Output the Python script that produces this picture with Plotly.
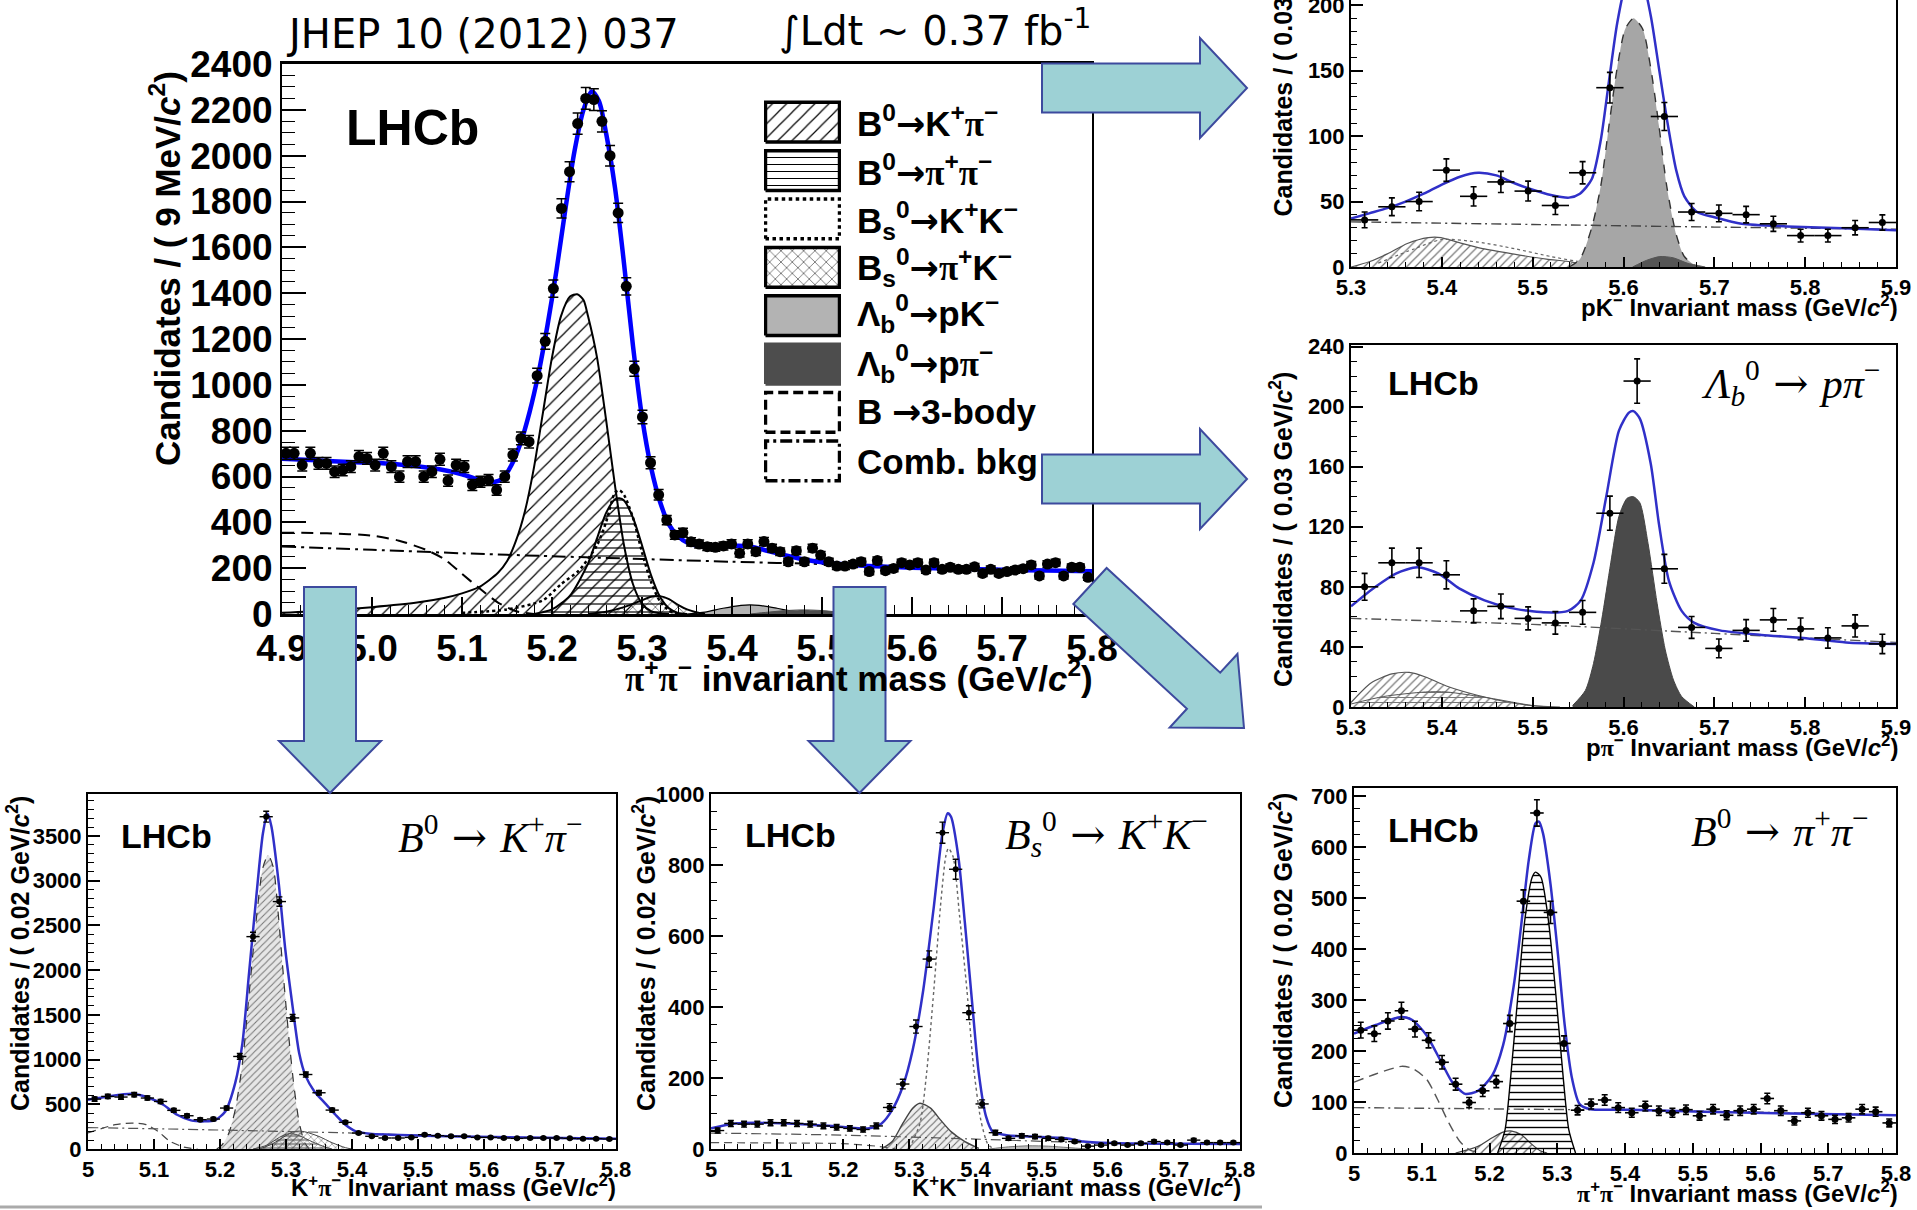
import numpy as np
import plotly.graph_objects as go

W, H = 1917, 1210
SANS = "Liberation Sans"
SERIF = "Liberation Serif"
BLUE_MAIN = "#0000ff"
BLUE_SMALL = "#3030c8"
ARROW_FILL = "#9dd1d5"
ARROW_EDGE = "#3d4a9e"

# ---------------- main panel: pi+pi- invariant mass, 9 MeV bins ----------------
main_lo, main_bw = 4.9, 0.009
main_counts = [
    701, 701, 650, 701, 657, 657, 621, 628, 643, 687,
    679, 650, 701, 643, 599, 665, 665, 599, 621, 675,
    582, 650, 643, 563, 577, 585, 541, 599, 694, 766,
    752, 1040, 1190, 1420, 1770, 1930, 2140, 2250, 2245, 2150,
    2000, 1750, 1430, 1070, 860, 660, 520, 410, 345, 355,
    315, 305, 294, 291, 297, 306, 265, 306, 272, 316,
    287, 272, 228, 276, 228, 287, 257, 228, 209, 209,
    218, 228, 185, 233, 189, 199, 224, 214, 224, 192,
    224, 195, 204, 195, 195, 206, 177, 195, 177, 185,
    192, 198, 214, 166, 218, 224, 166, 204, 204, 160]
main_fit_x = [4.900, 4.925, 4.950, 4.975, 5.000, 5.025, 5.050, 5.075, 5.100, 5.115, 5.125, 5.135,
              5.145, 5.155, 5.165, 5.175, 5.185, 5.195, 5.205, 5.215, 5.225, 5.235, 5.244, 5.252,
              5.260, 5.270, 5.280, 5.290, 5.300, 5.310, 5.320, 5.330, 5.340, 5.350, 5.365, 5.385,
              5.405, 5.420, 5.440, 5.460, 5.480, 5.500, 5.530, 5.560, 5.600, 5.650, 5.700, 5.750, 5.800]
main_fit_y = [678, 673, 668, 663, 660, 655, 645, 632, 610, 590, 578, 575,
              590, 650, 745, 880, 1050, 1260, 1500, 1770, 2020, 2200, 2280, 2240,
              2100, 1860, 1530, 1170, 860, 640, 490, 390, 340, 312, 295, 292,
              298, 295, 275, 255, 238, 226, 215, 208, 202, 197, 193, 190, 187]
main_kpi_x = [4.90, 4.95, 5.00, 5.05, 5.08, 5.10, 5.12, 5.14, 5.15, 5.16, 5.17, 5.18, 5.19, 5.20,
              5.21, 5.22, 5.228, 5.235, 5.24, 5.25, 5.26, 5.27, 5.28, 5.29, 5.30, 5.31, 5.32, 5.33]
main_kpi_y = [5, 15, 30, 50, 70, 90, 120, 180, 230, 320, 450, 640, 880, 1120,
              1300, 1385, 1395, 1370, 1300, 1120, 850, 560, 300, 130, 45, 12, 3, 0]
main_pipi_x = [5.18, 5.20, 5.22, 5.24, 5.25, 5.26, 5.27, 5.275, 5.28, 5.29, 5.30, 5.31, 5.32, 5.33, 5.34, 5.35]
main_pipi_y = [0, 20, 80, 220, 330, 440, 500, 505, 495, 420, 300, 170, 75, 25, 5, 0]
main_kk_x = [5.10, 5.15, 5.19, 5.21, 5.23, 5.25, 5.26, 5.27, 5.275, 5.28, 5.29, 5.30, 5.31, 5.32, 5.33, 5.34]
main_kk_y = [5, 20, 60, 130, 190, 300, 400, 530, 540, 520, 420, 270, 140, 55, 15, 0]
main_bspik_x = [5.24, 5.26, 5.28, 5.30, 5.31, 5.32, 5.33, 5.34, 5.35, 5.36, 5.37]
main_bspik_y = [0, 10, 30, 60, 75, 78, 65, 40, 20, 8, 0]
main_lbpk_x = [5.35, 5.37, 5.39, 5.41, 5.42, 5.43, 5.45, 5.47, 5.49, 5.50]
main_lbpk_y = [0, 8, 25, 38, 40, 38, 25, 10, 3, 0]
main_lbppi_x = [5.42, 5.44, 5.46, 5.48, 5.50, 5.52, 5.54, 5.55]
main_lbppi_y = [0, 8, 15, 18, 15, 8, 2, 0]
main_3body_x = [4.90, 4.95, 5.00, 5.03, 5.06, 5.08, 5.10, 5.12, 5.14, 5.16, 5.18]
main_3body_y = [355, 352, 342, 320, 280, 240, 175, 110, 50, 12, 0]
main_comb_x = [4.9, 5.0, 5.1, 5.2, 5.3, 5.4, 5.5, 5.6, 5.7, 5.8]
main_comb_y = [295, 280, 265, 252, 240, 228, 218, 207, 197, 188]

ARW = '<span style="font-family:DejaVu Sans">→</span>'
legend_labels = [
    "B<sup>0</sup>" + ARW + "K<sup>+</sup>π<sup>−</sup>",
    "B<sup>0</sup>" + ARW + "π<sup>+</sup>π<sup>−</sup>",
    "B<sub>s</sub><sup>0</sup>" + ARW + "K<sup>+</sup>K<sup>−</sup>",
    "B<sub>s</sub><sup>0</sup>" + ARW + "π<sup>+</sup>K<sup>−</sup>",
    "Λ<sub>b</sub><sup>0</sup>" + ARW + "pK<sup>−</sup>",
    "Λ<sub>b</sub><sup>0</sup>" + ARW + "pπ<sup>−</sup>",
    "B " + ARW + "3-body",
    "Comb. bkg",
]

# ---------------- pK- panel, 30 MeV bins ----------------
pk_lo, pk_bw = 5.3, 0.03
pk_counts = [36, 46, 50, 74, 54, 65, 58, 47, 72, 137, 228, 115, 42, 41, 40, 33, 24, 24, 30, 34]
pk_fit_x = [5.300, 5.320, 5.340, 5.360, 5.380, 5.400, 5.420, 5.440, 5.460, 5.480, 5.500, 5.520, 5.540,
            5.552, 5.565, 5.575, 5.584, 5.593, 5.602, 5.611, 5.621, 5.630, 5.639, 5.648, 5.658, 5.667,
            5.681, 5.700, 5.730, 5.780, 5.850, 5.900]
pk_fit_y = [37, 41, 45, 50, 56, 63, 69, 72, 70, 64, 59, 55, 53,
            56, 67, 97, 142, 186, 215, 225, 218, 192, 152, 112, 74, 54,
            42, 38, 33, 31, 29.5, 28]
pk_lbpk_x = [5.540, 5.552, 5.565, 5.575, 5.584, 5.593, 5.602, 5.611, 5.621, 5.630, 5.639, 5.648, 5.658, 5.667, 5.681]
pk_lbpk_y = [0, 6, 30, 62, 108, 152, 182, 190, 182, 152, 108, 60, 25, 8, 0]
pk_lbppi_x = [5.61, 5.625, 5.64, 5.655, 5.67, 5.69]
pk_lbppi_y = [0, 5, 8, 7, 3, 0]
pk_hatch_x = [5.300, 5.320, 5.340, 5.362, 5.385, 5.399, 5.422, 5.445, 5.478, 5.515, 5.542, 5.560, 5.580]
pk_hatch_y = [0, 4, 10, 18, 22.5, 22.5, 18, 14, 10, 6, 4, 1, 0]
pk_dot_x = [5.33, 5.37, 5.40, 5.44, 5.48, 5.52, 5.56, 5.59]
pk_dot_y = [3, 14, 21, 19, 14, 8, 3, 0]
pk_comb_x = [5.3, 5.5, 5.7, 5.9]
pk_comb_y = [34.5, 32.5, 30.5, 28.8]

# ---------------- p pi- panel, 30 MeV bins ----------------
ppi_lo, ppi_bw = 5.3, 0.03
ppi_counts = [80, 96, 96, 88, 64, 67, 59, 56, 63, 129, 217, 92, 53, 39, 51, 58, 52, 46, 54, 42]
ppi_fit_x = [5.300, 5.327, 5.350, 5.373, 5.396, 5.419, 5.447, 5.475, 5.512, 5.539, 5.553, 5.567, 5.581,
             5.595, 5.606, 5.611, 5.618, 5.630, 5.639, 5.650, 5.664, 5.678, 5.706, 5.752, 5.798, 5.845, 5.900]
ppi_fit_y = [67, 80, 89, 93, 89, 79, 71, 66, 63, 64, 71, 96, 140,
             184, 196, 197, 192, 162, 122, 84, 64, 56, 51, 48, 46, 43, 42]
ppi_lbppi_x = [5.544, 5.558, 5.567, 5.576, 5.586, 5.595, 5.604, 5.611, 5.618, 5.627, 5.637, 5.646, 5.655, 5.664, 5.678]
ppi_lbppi_y = [1, 11, 29, 58, 96, 127, 139, 140, 136, 109, 69, 38, 18, 7, 0]
ppi_hatch_x = [5.300, 5.322, 5.345, 5.364, 5.382, 5.405, 5.438, 5.475, 5.498, 5.520]
ppi_hatch_y = [3, 16, 22, 23, 20, 14, 8, 3, 1, 0]
ppi_horiz_x = [5.300, 5.336, 5.382, 5.405, 5.452, 5.500, 5.530]
ppi_horiz_y = [2, 7, 10, 10, 6, 1, 0]
ppi_comb_x = [5.3, 5.5, 5.7, 5.9]
ppi_comb_y = [59, 55, 49, 43]

# ---------------- pi+pi- panel, 20 MeV bins ----------------
pipi_lo, pipi_bw = 5.0, 0.02
pipi_counts = [241, 234, 259, 279, 243, 221, 178, 135, 99, 122,
               140, 254, 494, 667, 472, 215, 84, 96, 104, 89,
               79, 92, 83, 79, 85, 73, 86, 74, 83, 86,
               107, 83, 63, 79, 73, 66, 69, 86, 81, 59]
pipi_fit_x = [5.000, 5.032, 5.070, 5.086, 5.107, 5.129, 5.145, 5.164, 5.183, 5.204, 5.220, 5.236, 5.247,
              5.258, 5.268, 5.273, 5.279, 5.290, 5.301, 5.311, 5.322, 5.333, 5.349, 5.408, 5.515, 5.623, 5.800]
pipi_fit_y = [234, 251, 267, 261, 231, 178, 139, 116, 122, 152, 211, 330, 449,
              575, 647, 650, 627, 528, 390, 251, 145, 96, 86, 85, 81, 78, 74]
pipi_sig_x = [5.212, 5.223, 5.231, 5.242, 5.252, 5.263, 5.268, 5.276, 5.287, 5.298, 5.309, 5.317, 5.327]
pipi_sig_y = [0, 46, 145, 310, 456, 541, 551, 541, 456, 310, 145, 46, 0]
pipi_kpi_x = [5.150, 5.183, 5.204, 5.220, 5.233, 5.247, 5.260, 5.274, 5.285]
pipi_kpi_y = [0, 13, 30, 41, 43, 36, 20, 5, 0]
pipi_3body_x = [5.000, 5.032, 5.070, 5.086, 5.107, 5.123, 5.140, 5.156, 5.172, 5.190]
pipi_3body_y = [139, 155, 170, 166, 145, 106, 59, 23, 5, 0]
pipi_comb_x = [5.0, 5.2, 5.4, 5.6, 5.8]
pipi_comb_y = [89, 86.5, 84, 80, 74]

# ---------------- K+pi- panel, 20 MeV bins ----------------
kpi_lo, kpi_bw = 5.0, 0.02
kpi_counts = [558, 588, 581, 607, 570, 532, 432, 372, 328, 335,
              458, 1035, 2375, 3716, 2767, 1466, 833, 629, 435, 298,
              179, 142, 123, 123, 130, 160, 149, 142, 142, 130,
              130, 123, 119, 123, 123, 123, 119, 115, 115, 112]
kpi_fit_x = [5.000, 5.030, 5.067, 5.093, 5.114, 5.135, 5.156, 5.176, 5.192, 5.208, 5.223, 5.234, 5.244,
             5.255, 5.265, 5.272, 5.278, 5.289, 5.299, 5.310, 5.320, 5.330, 5.343, 5.359, 5.375, 5.390,
             5.406, 5.427, 5.458, 5.510, 5.615, 5.719, 5.800]
kpi_fit_y = [551, 588, 618, 570, 495, 383, 320, 309, 320, 420, 737, 1184, 1966,
             2822, 3529, 3753, 3604, 2971, 2226, 1593, 1072, 812, 644, 514, 383, 272,
             197, 171, 160, 149, 134, 123, 115]
kpi_sig_x = [5.195, 5.2025, 5.213, 5.2234, 5.2338, 5.2443, 5.2547, 5.2651, 5.273, 5.2808, 5.2886,
             5.2965, 5.3043, 5.3121, 5.3199, 5.3278, 5.335]
kpi_sig_y = [0, 40, 170, 450, 950, 1750, 2550, 3150, 3287, 3150, 2600, 1900, 1250, 700, 300, 80, 0]
kpi_bspik_x = [5.26, 5.28, 5.30, 5.31, 5.32, 5.33, 5.35, 5.37, 5.39, 5.40]
kpi_bspik_y = [0, 60, 150, 190, 200, 190, 140, 70, 15, 0]
kpi_pipi_x = [5.25, 5.27, 5.29, 5.30, 5.31, 5.32, 5.34, 5.36, 5.37]
kpi_pipi_y = [0, 40, 130, 165, 170, 150, 80, 20, 0]
kpi_3body_x = [5.000, 5.041, 5.067, 5.088, 5.106, 5.124, 5.145, 5.166]
kpi_3body_y = [179, 272, 290, 272, 197, 86, 22, 0]
kpi_comb_x = [5.0, 5.2, 5.4, 5.6, 5.8]
kpi_comb_y = [240, 212, 178, 132, 108]

# ---------------- K+K- panel, 20 MeV bins ----------------
kk_lo, kk_bw = 5.0, 0.02
kk_counts = [52, 72, 70, 70, 74, 74, 72, 70, 65, 61,
             58, 55, 65, 117, 183, 345, 535, 891, 788, 384,
             127, 46, 30, 37, 35, 30, 27, 21, 8, 11,
             16, 11, 16, 21, 18, 11, 25, 18, 18, 18]
kk_fit_x = [5.000, 5.037, 5.116, 5.195, 5.237, 5.258, 5.274, 5.290, 5.305, 5.321, 5.337, 5.350, 5.358,
            5.363, 5.374, 5.384, 5.395, 5.405, 5.416, 5.426, 5.447, 5.484, 5.537, 5.563, 5.616, 5.721, 5.800]
kk_fit_y = [58, 72, 72, 63, 58, 72, 110, 176, 279, 448, 683, 889, 946,
            936, 824, 636, 410, 213, 91, 49, 39, 35, 30, 21, 16, 15, 14]
kk_sig_x = [5.300, 5.316, 5.326, 5.337, 5.347, 5.355, 5.359, 5.366, 5.376, 5.387, 5.397, 5.408, 5.418, 5.426]
kk_sig_y = [2, 72, 213, 448, 683, 824, 847, 824, 655, 448, 232, 82, 16, 2]
kk_kpi_x = [5.258, 5.274, 5.290, 5.305, 5.316, 5.332, 5.347, 5.363, 5.384, 5.405]
kk_kpi_y = [0, 21, 72, 115, 129, 115, 82, 49, 21, 2]
kk_lb_x = [5.42, 5.45, 5.48, 5.51, 5.54, 5.57]
kk_lb_y = [0, 6, 9, 8, 4, 0]
kk_3body_x = [5.0, 5.1, 5.2, 5.25, 5.28]
kk_3body_y = [18, 17, 15, 8, 0]
kk_comb_x = [5.0, 5.2, 5.4, 5.6, 5.8]
kk_comb_y = [45, 39, 28, 16, 13]

# ---------------- layout geometry (pixel boxes: left, top, right, bottom) ----------------
PANELS = {
    1: dict(box=(282, 64, 1092, 614), xr=(4.9, 5.8), yr=(0, 2400)),
    2: dict(box=(1351, 0, 1896, 267), xr=(5.3, 5.9), yr=(0, 204)),
    3: dict(box=(1351, 345, 1896, 707), xr=(5.3, 5.9), yr=(0, 241)),
    4: dict(box=(1354, 788, 1896, 1153), xr=(5.0, 5.8), yr=(0, 716)),
    5: dict(box=(88, 794, 616, 1149), xr=(5.0, 5.8), yr=(0, 3970)),
    6: dict(box=(711, 794, 1240, 1149), xr=(5.0, 5.8), yr=(0, 1000)),
}


def fx(p):
    return p / W


def fy(p):
    return 1 - p / H


def ax(i):
    return ("x" if i == 1 else f"x{i}", "y" if i == 1 else f"y{i}")


fig = go.Figure()


def pattern(shape, size=9, fg="black", bg="rgba(255,255,255,0)", solidity=0.15):
    return dict(shape=shape, size=size, fgcolor=fg, bgcolor=bg, solidity=solidity, fillmode="replace")


def add_curve(i, x, y, color="black", width=1.5, dash="solid", fillcolor=None, fpat=None, smooth=0.7):
    xa, ya = ax(i)
    kw = dict(x=x, y=y, mode="lines", xaxis=xa, yaxis=ya, hoverinfo="skip",
              line=dict(color=color, width=width, dash=dash, shape="spline", smoothing=smooth))
    if fillcolor is not None or fpat is not None:
        kw["fill"] = "tozeroy"
        kw["fillcolor"] = fillcolor if fillcolor is not None else "rgba(255,255,255,0)"
        if fpat is not None:
            kw["fillpattern"] = fpat
    fig.add_trace(go.Scatter(**kw))


def add_points(i, lo, bw, counts, msize, cap, thick):
    xa, ya = ax(i)
    centers = np.round(lo + bw * (np.arange(len(counts)) + 0.5), 4)
    c = np.asarray(counts, dtype=float)
    fig.add_trace(go.Scatter(
        x=centers, y=c, mode="markers", xaxis=xa, yaxis=ya, hoverinfo="skip",
        marker=dict(color="black", size=msize, line=dict(width=0)),
        error_y=dict(type="data", array=np.sqrt(c), color="black", thickness=thick, width=cap),
        error_x=dict(type="constant", value=bw / 2, color="black", thickness=thick, width=0),
    ))


# ---- main panel ----
add_curve(1, main_lbpk_x, main_lbpk_y, color="black", width=1.2, fillcolor="#b3b3b3")
add_curve(1, main_lbppi_x, main_lbppi_y, color="#4d4d4d", width=1.0, fillcolor="#4d4d4d")
add_curve(1, main_kpi_x, main_kpi_y, width=2, fpat=pattern("/", size=10, solidity=0.12))
add_curve(1, main_pipi_x, main_pipi_y, width=2, fpat=pattern("-", size=8, solidity=0.15))
add_curve(1, main_bspik_x, main_bspik_y, width=2, fpat=pattern("x", size=8, solidity=0.12))
add_curve(1, main_kk_x, main_kk_y, width=2.5, dash="dot")
add_curve(1, main_3body_x, main_3body_y, width=2, dash="12px,7px")
add_curve(1, main_comb_x, main_comb_y, width=2, dash="14px,5px,3px,5px")
add_curve(1, main_fit_x, main_fit_y, color=BLUE_MAIN, width=4.5, smooth=0.8)
add_points(1, main_lo, main_bw, main_counts, 11, 5, 1.5)

# ---- pK- panel ----
add_curve(2, pk_hatch_x, pk_hatch_y, color="#555555", width=1.2, fpat=pattern("/", size=6, fg="#777777", solidity=0.2))
add_curve(2, pk_dot_x, pk_dot_y, color="#666666", width=1.2, dash="dot")
add_curve(2, pk_lbpk_x, pk_lbpk_y, color="#333333", width=1.4, dash="dash", fillcolor="#a6a6a6")
add_curve(2, pk_lbppi_x, pk_lbppi_y, color="#555555", width=1.0, fillcolor="#555555")
add_curve(2, pk_comb_x, pk_comb_y, color="#444444", width=1.4, dash="10px,4px,2px,4px")
add_curve(2, pk_fit_x, pk_fit_y, color=BLUE_SMALL, width=2.5)
add_points(2, pk_lo, pk_bw, pk_counts, 7, 3, 1.6)

# ---- p pi- panel ----
add_curve(3, ppi_hatch_x, ppi_hatch_y, color="#555555", width=1.2, fpat=pattern("/", size=6, fg="#777777", solidity=0.2))
add_curve(3, ppi_horiz_x, ppi_horiz_y, color="#555555", width=1.0, fpat=pattern("-", size=5, fg="#777777", solidity=0.2))
add_curve(3, ppi_lbppi_x, ppi_lbppi_y, color="#444444", width=1.0, fillcolor="#4a4a4a")
add_curve(3, ppi_comb_x, ppi_comb_y, color="#555555", width=1.4, dash="10px,4px,2px,4px")
add_curve(3, ppi_fit_x, ppi_fit_y, color=BLUE_SMALL, width=2.5)
add_points(3, ppi_lo, ppi_bw, ppi_counts, 7, 3, 1.6)

# ---- pi+pi- panel ----
add_curve(4, pipi_kpi_x, pipi_kpi_y, color="#444444", width=1.2, fpat=pattern("/", size=6, fg="#666666", solidity=0.2))
add_curve(4, pipi_sig_x, pipi_sig_y, color="black", width=1.4, fpat=pattern("-", size=7, fg="black", solidity=0.2))
add_curve(4, pipi_3body_x, pipi_3body_y, color="#555555", width=1.4, dash="10px,6px")
add_curve(4, pipi_comb_x, pipi_comb_y, color="#555555", width=1.4, dash="10px,4px,2px,4px")
add_curve(4, pipi_fit_x, pipi_fit_y, color=BLUE_SMALL, width=2.5)
add_points(4, pipi_lo, pipi_bw, pipi_counts, 7, 3, 1.6)

# ---- K+pi- panel ----
add_curve(5, kpi_sig_x, kpi_sig_y, color="#333333", width=1.2, dash="dash", fillcolor="#e2e2e2",
          fpat=pattern("/", size=5, fg="#777777", bg="#e6e6e6", solidity=0.2))
add_curve(5, kpi_pipi_x, kpi_pipi_y, color="#444444", width=1.0, fpat=pattern("-", size=4, fg="#555555", solidity=0.25))
add_curve(5, kpi_bspik_x, kpi_bspik_y, color="#444444", width=1.0, fpat=pattern("x", size=5, fg="#666666", solidity=0.2))
add_curve(5, kpi_3body_x, kpi_3body_y, color="#444444", width=1.2, dash="8px,5px")
add_curve(5, kpi_comb_x, kpi_comb_y, color="#555555", width=1.2, dash="10px,4px,2px,4px")
add_curve(5, kpi_fit_x, kpi_fit_y, color=BLUE_SMALL, width=2.5)
add_points(5, kpi_lo, kpi_bw, kpi_counts, 6, 3, 1.4)

# ---- K+K- panel ----
add_curve(6, kk_kpi_x, kk_kpi_y, color="#444444", width=1.4, fpat=pattern("/", size=5, fg="#666666", bg="#eeeeee", solidity=0.2))
add_curve(6, kk_lb_x, kk_lb_y, color="#777777", width=1.0, fillcolor="#bdbdbd")
add_curve(6, kk_sig_x, kk_sig_y, color="#666666", width=1.4, dash="dot")
add_curve(6, kk_3body_x, kk_3body_y, color="#555555", width=1.2, dash="8px,5px")
add_curve(6, kk_comb_x, kk_comb_y, color="#555555", width=1.2, dash="10px,4px,2px,4px")
add_curve(6, kk_fit_x, kk_fit_y, color=BLUE_SMALL, width=2.5)
add_points(6, kk_lo, kk_bw, kk_counts, 6, 3, 1.4)

# ---- legend boxes for the main panel (own axis pair, rows from top) ----
legend_styles = [
    dict(fpat=pattern("/", size=10, solidity=0.12), dash="solid", edge="black", fc=None),
    dict(fpat=pattern("-", size=7, solidity=0.15), dash="solid", edge="black", fc=None),
    dict(fpat=None, dash="dot", edge="black", fc="rgba(255,255,255,0)"),
    dict(fpat=pattern("x", size=8, solidity=0.12), dash="solid", edge="black", fc=None),
    dict(fpat=None, dash="solid", edge="black", fc="#b3b3b3"),
    dict(fpat=None, dash="solid", edge="#4d4d4d", fc="#4d4d4d"),
    dict(fpat=None, dash="10px,5px", edge="black", fc="rgba(255,255,255,0)"),
    dict(fpat=None, dash="12px,4px,3px,4px", edge="black", fc="rgba(255,255,255,0)"),
]
for k, st in enumerate(legend_styles):
    yc = len(legend_styles) - k - 0.5
    kw = dict(x=[0, 1, 1, 0, 0], y=[yc - 0.41, yc - 0.41, yc + 0.41, yc + 0.41, yc - 0.41],
              mode="lines", xaxis="x7", yaxis="y7", hoverinfo="skip", fill="toself",
              line=dict(color=st["edge"], width=3.5, dash=st["dash"]))
    if st["fpat"] is not None:
        kw["fillcolor"] = "rgba(255,255,255,0)"
        kw["fillpattern"] = st["fpat"]
    else:
        kw["fillcolor"] = st["fc"]
    fig.add_trace(go.Scatter(**kw))

# ---------------- axes ----------------
layout = {}
SMALL_Y = {2: (50, 10), 3: (40, 10), 4: (100, 25), 5: (500, 100), 6: (200, 50)}
for i, p in PANELS.items():
    l, t, r, b = p["box"]
    xk = "xaxis" if i == 1 else f"xaxis{i}"
    yk = "yaxis" if i == 1 else f"yaxis{i}"
    main = i == 1
    tf = dict(family=SANS, size=37 if main else 22, color="black", weight="bold")
    xdict = dict(
        domain=[fx(l), fx(r)], range=list(p["xr"]), anchor="y" if main else f"y{i}",
        showline=True, linecolor="black", linewidth=2.5 if main else 2, mirror=(i != 2),
        ticks="inside", ticklen=17 if main else 10, tickwidth=1.5, tickcolor="black",
        dtick=0.1, tick0=0,
        minor=dict(ticks="inside", ticklen=9 if main else 5, dtick=0.02, tickcolor="black", tickwidth=1.2),
        showgrid=False, zeroline=False, tickfont=tf, fixedrange=True, automargin=False,
        ticklabeloverflow="allow",
    )
    if main:
        xdict["tickformat"] = ".1f"
    ydt, ymn = (200, 50) if main else SMALL_Y[i]
    ydict = dict(
        domain=[fy(b), fy(t)], range=list(p["yr"]), anchor="x" if main else f"x{i}",
        showline=True, linecolor="black", linewidth=2, mirror=True,
        ticks="inside", ticklen=24 if main else 12, tickwidth=1.5, tickcolor="black",
        dtick=ydt, tick0=0,
        minor=dict(ticks="inside", ticklen=13 if main else 6, dtick=ymn, tickcolor="black", tickwidth=1.2),
        showgrid=False, zeroline=False, tickfont=tf, fixedrange=True, automargin=False,
        ticklabeloverflow="allow",
    )
    layout[xk] = xdict
    layout[yk] = ydict

layout["xaxis7"] = dict(domain=[fx(764), fx(841)], range=[-0.02, 1.02], visible=False, anchor="y7",
                        fixedrange=True, automargin=False)
layout["yaxis7"] = dict(domain=[fy(485), fy(98)], range=[0, 8], visible=False, anchor="x7",
                        fixedrange=True, automargin=False)

fig.update_layout(
    width=W, height=H, margin=dict(l=0, r=0, t=0, b=0, pad=0, autoexpand=False),
    paper_bgcolor="white", plot_bgcolor="rgba(0,0,0,0)", showlegend=False,
    **layout,
)


# ---------------- text ----------------
def text(x, y, s, size, family=SANS, bold=True, xanchor="center", yanchor="middle", angle=0, color="black"):
    fig.add_annotation(
        x=fx(x), y=fy(y), xref="paper", yref="paper", text=s, showarrow=False,
        font=dict(family=family, size=size, color=color, weight="bold" if bold else "normal"),
        xanchor=xanchor, yanchor=yanchor, textangle=angle, borderpad=0,
    )


PI = '<span style="font-family:Liberation Serif">π</span>'
C2 = "<i>c</i><sup>2</sup>"
SARW = '<span style="font-family:DejaVu Serif"> → </span>'

text(483, 34, "JHEP 10 (2012) 037", 40, family="DejaVu Sans", bold=False)
text(935, 28, "∫Ldt ~ 0.37 fb<sup>-1</sup>", 40, family="DejaVu Sans", bold=False)

# main panel labels
text(412, 128, "LHCb", 50)
text(165, 269, f"Candidates / ( 9 MeV/{C2})", 35, angle=-90)
text(1094, 676, f"{PI}<sup>+</sup>{PI}<sup>−</sup> invariant mass (GeV/{C2})", 35, xanchor="right")
legend_rows_y = [122, 171, 220, 267, 314, 363, 412, 461]
for lab, yy in zip(legend_labels, legend_rows_y):
    text(856, yy, lab.replace("π", PI), 35, xanchor="left")

# right column
text(1899, 306, f"pK<sup>−</sup> Invariant mass (GeV/{C2})", 24, xanchor="right")
text(1281, 218, f"Candidates / ( 0.03 GeV/{C2})", 25, angle=-90, yanchor="bottom")

text(1899, 746, f"p{PI}<sup>−</sup> Invariant mass (GeV/{C2})", 24, xanchor="right")
text(1281, 530, f"Candidates / ( 0.03 GeV/{C2})", 25, angle=-90)
text(1433, 383, "LHCb", 34)
text(1790, 383, "<i>Λ</i><sub><i>b</i></sub><sup>0</sup>" + SARW + "<i>pπ</i><sup>−</sup>", 42, family=SERIF, bold=False)

text(1899, 1192, f"{PI}<sup>+</sup>{PI}<sup>−</sup> Invariant mass (GeV/{C2})", 24, xanchor="right")
text(1281, 951, f"Candidates / ( 0.02 GeV/{C2})", 25, angle=-90)
text(1433, 830, "LHCb", 34)
text(1780, 829, "<i>B</i><sup>0</sup>" + SARW + "<i>π</i><sup>+</sup><i>π</i><sup>−</sup>", 42, family=SERIF, bold=False)

# bottom row
text(617, 1186, f"K<sup>+</sup>{PI}<sup>−</sup> Invariant mass (GeV/{C2})", 24, xanchor="right")
text(18, 954, f"Candidates / ( 0.02 GeV/{C2})", 25, angle=-90)
text(166, 836, "LHCb", 34)
text(490, 835, "<i>B</i><sup>0</sup>" + SARW + "<i>K</i><sup>+</sup><i>π</i><sup>−</sup>", 42, family=SERIF, bold=False)

text(1242, 1186, f"K<sup>+</sup>K<sup>−</sup> Invariant mass (GeV/{C2})", 24, xanchor="right")
text(644, 954, f"Candidates / ( 0.02 GeV/{C2})", 25, angle=-90)
text(790, 835, "LHCb", 34)
text(1106, 834, "<i>B</i><sub><i>s</i></sub><sup>0</sup>" + SARW + "<i>K</i><sup>+</sup><i>K</i><sup>−</sup>", 42, family=SERIF, bold=False)


# ---------------- block arrows linking the overview to the single-mode fits ----------------
def arrow_path(tail, tip, bw, hw, hl):
    tx, ty = tail
    px_, py_ = tip
    dx, dy = px_ - tx, py_ - ty
    L = (dx * dx + dy * dy) ** 0.5
    ux, uy = dx / L, dy / L
    nx, ny = -uy, ux
    bx, by = px_ - ux * hl, py_ - uy * hl
    pts = [(tx + nx * bw, ty + ny * bw), (bx + nx * bw, by + ny * bw), (bx + nx * hw, by + ny * hw),
           (px_, py_), (bx - nx * hw, by - ny * hw), (bx - nx * bw, by - ny * bw),
           (tx - nx * bw, ty - ny * bw)]
    return "M " + " L ".join(f"{fx(x):.5f},{fy(y):.5f}" for x, y in pts) + " Z"


arrows = [
    ((1042, 88), (1247, 88), 24.5, 50, 47),
    ((1042, 479), (1247, 479), 24.5, 50, 47),
    ((1090, 586), (1244, 728), 24.5, 50, 55),
    ((330, 587), (330, 793), 26, 51, 52),
    ((859.5, 587), (859.5, 793), 26, 51, 52),
]
for tail, tip, bw, hw, hl in arrows:
    fig.add_shape(type="path", path=arrow_path(tail, tip, bw, hw, hl), xref="paper", yref="paper",
                  fillcolor=ARROW_FILL, line=dict(color=ARROW_EDGE, width=2), layer="above")

# slide edge line at the bottom
fig.add_shape(type="line", x0=0, x1=fx(1262), y0=fy(1207), y1=fy(1207), xref="paper", yref="paper",
              line=dict(color="#aaaaaa", width=3), layer="above")

fig.write_html("out.html")
